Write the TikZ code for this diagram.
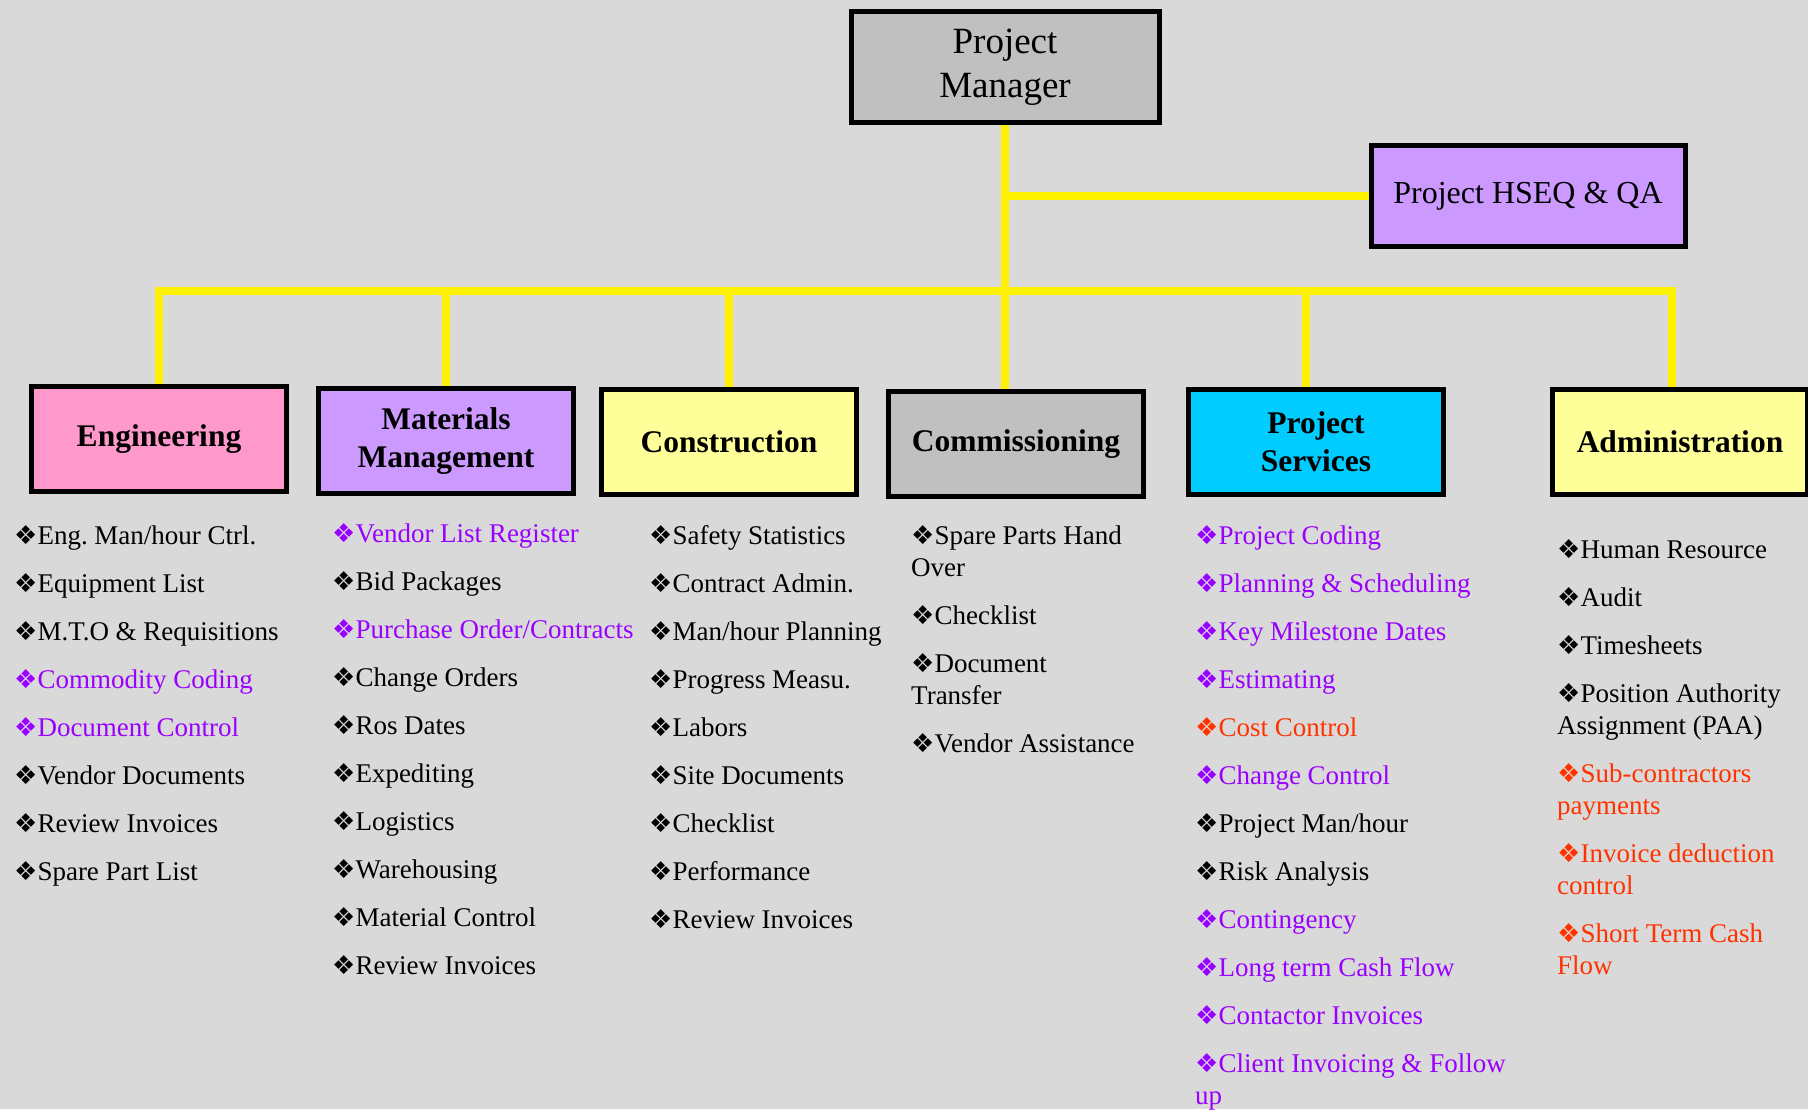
\documentclass[tikz,border=0pt]{standalone}
\usepackage{fontspec}
\setmainfont{Liberation Serif}
\newfontfamily\dingfont{DejaVu Sans}
\usepackage{xcolor}
\frenchspacing

\definecolor{bgGray}{HTML}{D9D9D9}
\definecolor{boxGray}{HTML}{C0C0C0}
\definecolor{lilac}{HTML}{CC99FF}
\definecolor{pinkFill}{HTML}{FF99CC}
\definecolor{paleYellow}{HTML}{FFFF99}
\definecolor{skyBlue}{HTML}{00CCFF}
\definecolor{itemPurple}{HTML}{9900FF}
\definecolor{itemRed}{HTML}{FF3300}

\newcommand{\dia}{\smash{\dingfont\fontsize{26}{26}\selectfont\char"2756}}
\newcommand{\bitem}[1]{\dia#1}
\newcommand{\pitem}[1]{\textcolor{itemPurple}{\dia#1}}
\newcommand{\ritem}[1]{\textcolor{itemRed}{\dia#1}}

\begin{document}
\begin{tikzpicture}[
    x=1pt, y=-1pt,
    top/.style={draw, line width=5pt, rectangle, align=center, inner sep=0pt},
    dept/.style={draw, line width=5pt, rectangle, minimum width=255pt, minimum height=105pt, align=center, inner sep=0pt, font=\fontsize{31.5}{38}\selectfont\bfseries},
    list/.style={anchor=north west, align=left, inner sep=0pt, font=\fontsize{27}{32}\selectfont},
    link/.style={draw=yellow, line width=8pt},
]

% Background
\fill[bgGray] (0, 0) rectangle (1808, 1109);
\useasboundingbox (0, 0) rectangle (1808, 1109);

% Top
\node[top, fill=boxGray, minimum width=308pt, minimum height=111pt, font=\fontsize{37}{44}\selectfont] (pm) at (1005, 67) {Project\\Manager};
\node[top, fill=lilac, minimum width=314pt, minimum height=101pt, font=\fontsize{32}{38}\selectfont] (hseq) at (1528, 196) {Project HSEQ \& QA};

% Departments
\node[dept, fill=pinkFill] (eng) at (159, 439) {Engineering};
\node[dept, fill=lilac] (mat) at (446, 441) {Materials\\Management};
\node[dept, fill=paleYellow] (con) at (729, 442) {Construction};
\node[dept, fill=boxGray] (com) at (1016, 444) {Commissioning};
\node[dept, fill=skyBlue] (ps) at (1316, 442) {Project\\Services};
\node[dept, fill=paleYellow] (adm) at (1680, 442) {Administration};

% Bus
\coordinate (busL) at (159, 291);
\coordinate (busR) at (1672, 291);

% Links
\draw[link] (pm.south) -- (pm.south |- busL);
\draw[link] (pm.south |- hseq.west) -- (hseq.west);
\draw[link] ([xshift=-4pt]busL) -- ([xshift=4pt]busR);
\draw[link] (eng.north) -- (busL);
\draw[link] (mat.north) -- (mat.north |- busL);
\draw[link] (con.north) -- (con.north |- busL);
\draw[link] (pm.south |- com.north) -- (pm.south |- busL);
\draw[link] ([xshift=-10pt]ps.north) -- ([xshift=-10pt]ps.north |- busL);
\draw[link] (busR |- adm.north) -- (busR);

% Task lists
\node[list] (englist) at (14, 525.6) {%
  \bitem{Eng. Man/hour Ctrl.}\\[16pt]
  \bitem{Equipment List}\\[16pt]
  \bitem{M.T.O \& Requisitions}\\[16pt]
  \pitem{Commodity Coding}\\[16pt]
  \pitem{Document Control}\\[16pt]
  \bitem{Vendor Documents}\\[16pt]
  \bitem{Review Invoices}\\[16pt]
  \bitem{Spare Part List}};

\node[list] (matlist) at (332, 523.6) {%
  \pitem{Vendor List Register}\\[16pt]
  \bitem{Bid Packages}\\[16pt]
  \pitem{Purchase Order/Contracts}\\[16pt]
  \bitem{Change Orders}\\[16pt]
  \bitem{Ros Dates}\\[16pt]
  \bitem{Expediting}\\[16pt]
  \bitem{Logistics}\\[16pt]
  \bitem{Warehousing}\\[16pt]
  \bitem{Material Control}\\[16pt]
  \bitem{Review Invoices}};

\node[list] (conlist) at (649, 525.6) {%
  \bitem{Safety Statistics}\\[16pt]
  \bitem{Contract Admin.}\\[16pt]
  \bitem{Man/hour Planning}\\[16pt]
  \bitem{Progress Measu.}\\[16pt]
  \bitem{Labors}\\[16pt]
  \bitem{Site Documents}\\[16pt]
  \bitem{Checklist}\\[16pt]
  \bitem{Performance}\\[16pt]
  \bitem{Review Invoices}};

\node[list] (comlist) at (911, 525.6) {%
  \bitem{Spare Parts Hand}\\
  Over\\[16pt]
  \bitem{Checklist}\\[16pt]
  \bitem{Document}\\
  Transfer\\[16pt]
  \bitem{Vendor Assistance}};

\node[list] (pslist) at (1195, 525.6) {%
  \pitem{Project Coding}\\[16pt]
  \pitem{Planning \& Scheduling}\\[16pt]
  \pitem{Key Milestone Dates}\\[16pt]
  \pitem{Estimating}\\[16pt]
  \ritem{Cost Control}\\[16pt]
  \pitem{Change Control}\\[16pt]
  \bitem{Project Man/hour}\\[16pt]
  \bitem{Risk Analysis}\\[16pt]
  \pitem{Contingency}\\[16pt]
  \pitem{Long term Cash Flow}\\[16pt]
  \pitem{Contactor Invoices}\\[16pt]
  \pitem{Client Invoicing \& Follow}\\
  \textcolor{itemPurple}{up}};

\node[list] (admlist) at (1557, 540.6) {%
  \bitem{Human Resource}\\[16pt]
  \bitem{Audit}\\[16pt]
  \bitem{Timesheets}\\[16pt]
  \bitem{Position Authority}\\
  Assignment (PAA)\\[16pt]
  \ritem{Sub-contractors}\\
  \textcolor{itemRed}{payments}\\[16pt]
  \ritem{Invoice deduction}\\
  \textcolor{itemRed}{control}\\[16pt]
  \ritem{Short Term Cash}\\
  \textcolor{itemRed}{Flow}};

\end{tikzpicture}
\end{document}
